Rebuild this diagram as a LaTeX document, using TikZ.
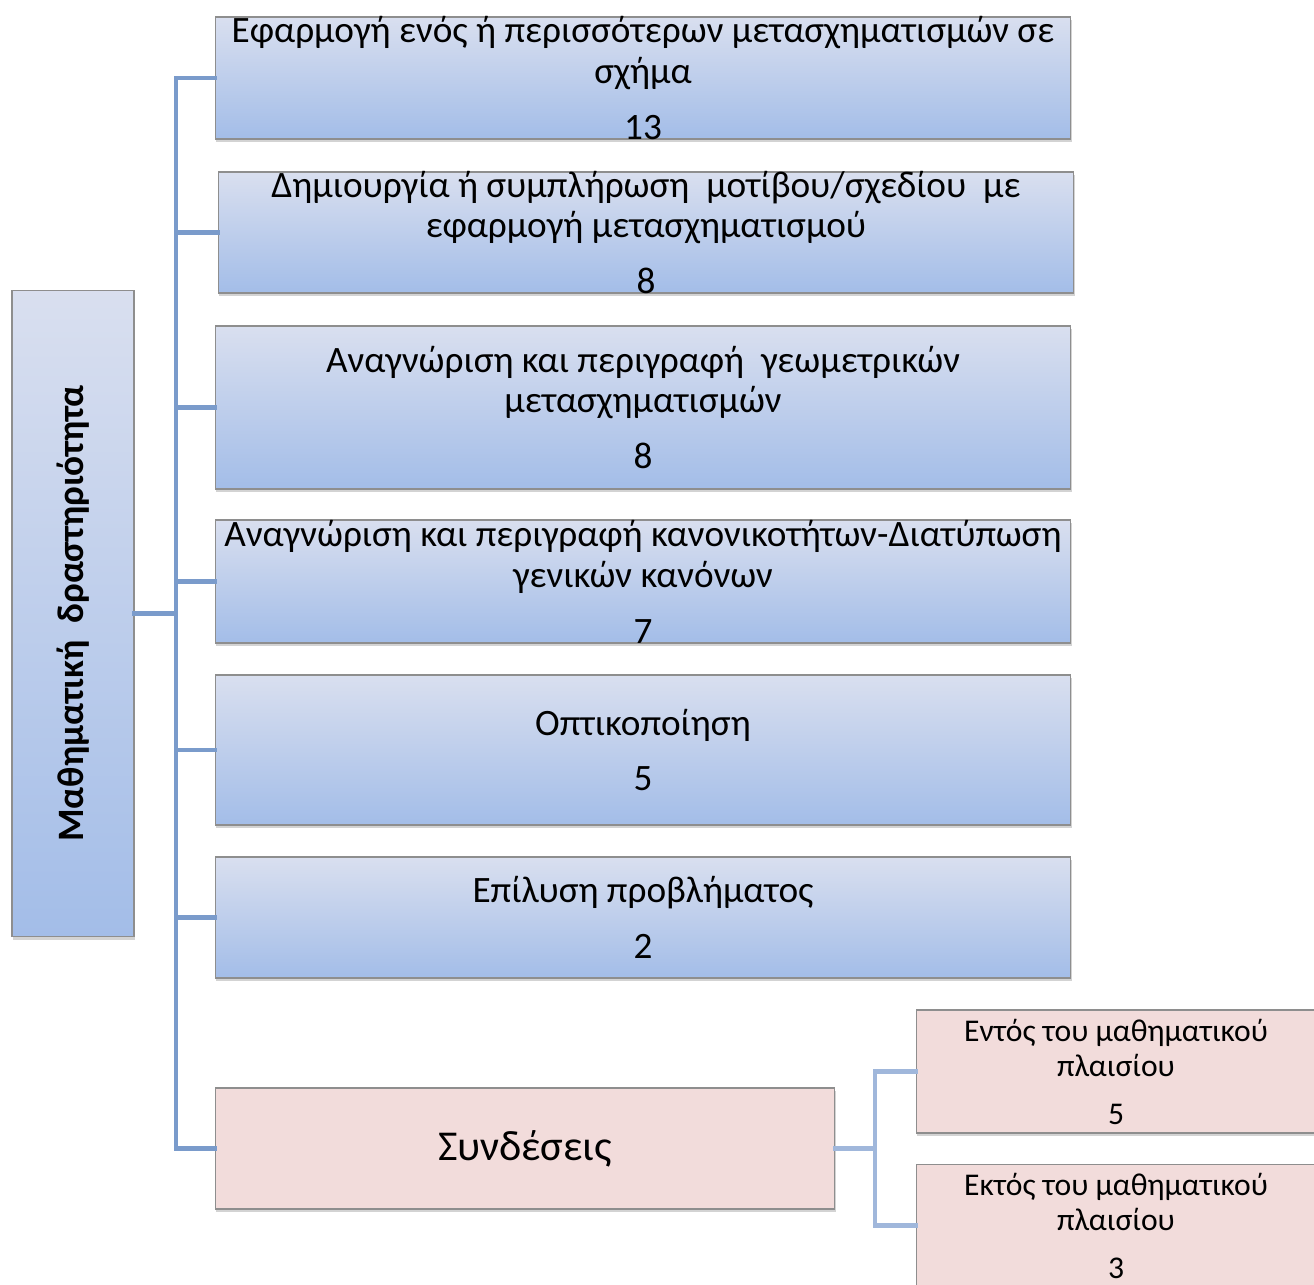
\documentclass[tikz,border=0pt]{standalone}
\usepackage{fontspec}
\setmainfont{Carlito}
\usetikzlibrary{calc, shadows}
\definecolor{cTop}{HTML}{D9DFEF}
\definecolor{cBot}{HTML}{A3BDE8}
\definecolor{cRosa}{HTML}{F2DCDB}
\definecolor{cLink}{HTML}{7A9BCB}
\definecolor{cLinkL}{HTML}{A0B7DB}
\definecolor{cEdge}{HTML}{8E8E8E}

\begin{document}
\begin{tikzpicture}[
    x=0.02cm, y=-0.02cm,
    act/.style={draw=cEdge, line width=0.6pt, top color=cTop, bottom color=cBot,
                inner sep=0pt, minimum width=17.12cm,
                drop shadow={opacity=0.35, shadow xshift=0.8pt, shadow yshift=-1.6pt}},
    con/.style={draw=cEdge, line width=0.6pt, fill=cRosa, inner sep=0pt,
                drop shadow={opacity=0.35, shadow xshift=0.8pt, shadow yshift=-1.6pt}},
    root/.style={act, minimum width=2.44cm, minimum height=12.94cm},
    txt/.style={align=center, inner sep=0pt, font=\fontsize{21.2}{23.3}\selectfont},
    stxt/.style={align=center, inner sep=0pt, font=\fontsize{18}{19.9}\selectfont},
    lnk/.style={draw=cLink, line width=2.3pt, line cap=rect},
    lnkl/.style={draw=cLinkL, line width=2.3pt, line cap=rect},
]
\useasboundingbox (0,0) rectangle (1314,1284);

% ===================== Raiz =====================
\node[root] (root) at (73,613.5) {};
\node[txt, rotate=90, font=\fontsize{21.2}{23.3}\selectfont\bfseries] (roott)
      at (root.center) {Μαθηματική~~δραστηριότητα};

% ===================== Actividades =====================
\node[act, minimum height=2.44cm] (b1) at (643,78) {};
\node[txt] (b1t) at (b1.center)
      {Εφαρμογή ενός ή περισσότερων μετασχηματισμών σε\\σχήμα\\[0.3cm]13};

\node[act, minimum height=2.42cm] (b2) at (646,232.5) {};
\node[txt] (b2t) at (b2.center)
      {Δημιουργία ή συμπλήρωση~~μοτίβου/σχεδίου~~με\\εφαρμογή μετασχηματισμού\\[0.3cm]8};

\node[act, minimum height=3.26cm] (b3) at (643,407.5) {};
\node[txt] (b3t) at (b3.center)
      {Αναγνώριση και περιγραφή~~γεωμετρικών\\μετασχηματισμών\\[0.3cm]8};

\node[act, minimum height=2.46cm] (b4) at (643,581.5) {};
\node[txt] (b4t) at (b4.center)
      {Αναγνώριση και περιγραφή κανονικοτήτων-Διατύπωση\\γενικών κανόνων\\[0.3cm]7};

\node[act, minimum height=3.0cm] (b5) at (643,750) {};
\node[txt] (b5t) at (b5.center) {Οπτικοποίηση\\[0.3cm]5};

\node[act, minimum height=2.42cm] (b6) at (643,917.5) {};
\node[txt] (b6t) at (b6.center) {Επίλυση προβλήματος\\[0.3cm]2};

% ===================== Conexiones =====================
\node[con, minimum width=12.4cm, minimum height=2.42cm] (syn) at (525,1148.5) {};
\node[txt, font=\fontsize{24.2}{28}\selectfont] (synt) at (syn.center) {Συνδέσεις};

% los dos de la derecha se salen del borde, como en el original
\node[con, minimum width=8.1cm, minimum height=2.46cm] (in) at (1118.5,1071.5) {};
\node[stxt] (int) at (1116,1071.5) {Εντός του μαθηματικού\\πλαισίου\\[0.26cm]5};

\node[con, minimum width=8.1cm, minimum height=2.46cm] (out) at (1118.5,1225.5) {};
\node[stxt] (outt) at (1116,1225.5) {Εκτός του μαθηματικού\\πλαισίου\\[0.26cm]3};

% ===================== Conectores =====================
\coordinate (trunk) at (176,613.5);
\coordinate (fork) at (875,1148.5);
\draw[lnk] (root.east) -- (trunk);
\draw[lnk] (trunk |- b1.west) -- (trunk |- syn.west);
\foreach \b in {b1,b2,b3,b4,b5,b6,syn} {\draw[lnk] (trunk |- \b.west) -- (\b.west);}

\draw[lnkl] (syn.east) -- (fork);
\draw[lnkl] (fork |- in.west) -- (fork |- out.west);
\foreach \b in {in,out} {\draw[lnkl] (fork |- \b.west) -- (\b.west);}

\end{tikzpicture}
\end{document}
